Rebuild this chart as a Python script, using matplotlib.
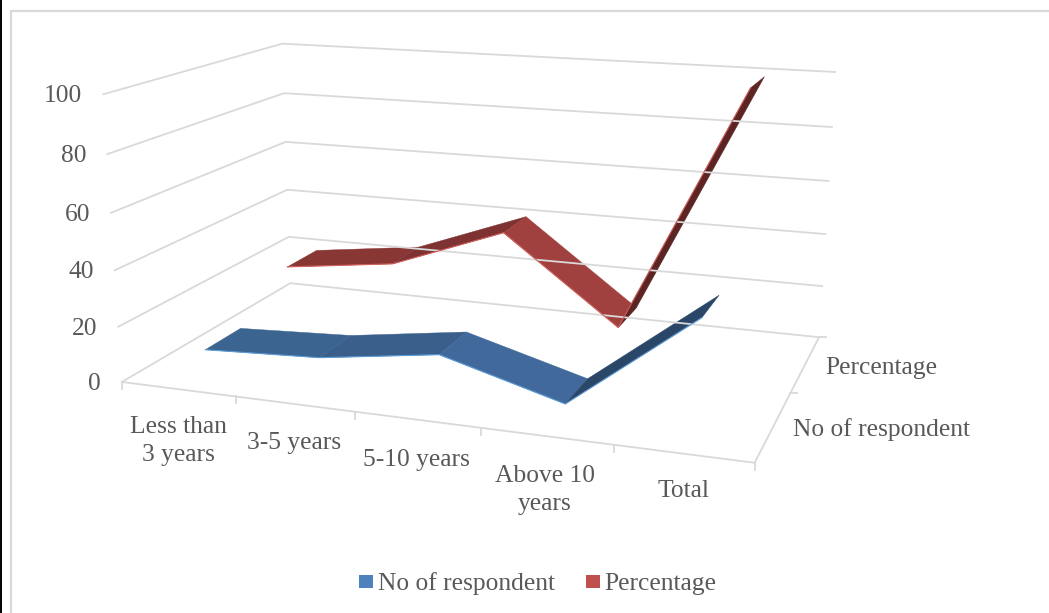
import matplotlib.pyplot as plt
import numpy as np
from matplotlib.patches import Rectangle

categories = ["Less than\n3 years", "3-5 years", "5-10 years", "Above 10\nyears", "Total"]
series_names = ["No of respondent", "Percentage"]
no_of_respondent = [8, 10, 16, 4, 38]
percentage = [21.05, 26.32, 42.11, 10.53, 100]
value_ticks = [0, 20, 40, 60, 80, 100]

GRID = "#d9d9d9"
TEXT = "#595959"
FONT_SIZE = 18.4

# ribbon colours per segment, the shading changes with the slope
BLUE_FACES = ["#3c6490", "#3a5f8b", "#41699b", "#2b4768"]
RED_FACES = ["#893735", "#7e3332", "#a0413f", "#5c2523"]

# plot box corners: (category pos, series pos, value, canvas x, canvas y)
box_corners = [
    (0, 0, 0, 122, 381),
    (0, 0, 100, 103, 95),
    (0, 1, 0, 290, 284),
    (0, 1, 100, 283, 43),
    (1, 1, 0, 819, 337),
    (1, 1, 100, 835, 72),
    (1, 0, 0, 755, 463),
]


# -----------------------------------------------------------------------------
def fit_projection() -> np.ndarray:
    rows = []
    rhs = []
    for u, v, z, px, py in box_corners:
        w = z / 100
        rows.append([u, v, w, 1, 0, 0, 0, 0, -px * u, -px * v, -px * w])
        rows.append([0, 0, 0, 0, u, v, w, 1, -py * u, -py * v, -py * w])
        rhs += [px, py]
    h = np.linalg.lstsq(np.array(rows, float), np.array(rhs, float), rcond=None)[0]
    return np.array([h[:4], h[4:8], [h[8], h[9], h[10], 1]])


P = fit_projection()


def project(u: float, v: float, z: float) -> tuple[float, float]:
    p = P @ np.array([u, v, z / 100, 1])
    return p[0] / p[2], p[1] / p[2]


# -----------------------------------------------------------------------------
def draw_ribbon(ax, values, v_front, v_back, faces, edge):
    n = len(values)
    for i in range(n - 1):
        u0 = (i + 0.5) / n
        u1 = (i + 1.5) / n
        quad = [
            project(u0, v_front, values[i]),
            project(u1, v_front, values[i + 1]),
            project(u1, v_back, values[i + 1]),
            project(u0, v_back, values[i]),
        ]
        ax.fill(*zip(*quad), facecolor=faces[i], edgecolor=faces[i], linewidth=0.3)
    front = [project((i + 0.5) / n, v_front, values[i]) for i in range(n)]
    ax.plot(*zip(*front), color=edge, linewidth=0.8, solid_joinstyle="round")


plt.rcParams["font.family"] = ["Liberation Serif", "DejaVu Serif"]

fig = plt.figure(figsize=(10.49, 6.13), dpi=100)
ax = fig.add_axes([0, 0, 1, 1])
ax.set_xlim(0, 1049)
ax.set_ylim(613, 0)
ax.axis("off")

# chart frame
ax.plot([0.5, 0.5], [0, 613], color="black", linewidth=1.4)
ax.plot([11, 11, 1049], [613, 10.5, 10.5], color=GRID, linewidth=1.6)

# gridlines run along the side wall and the back wall
for z in value_ticks:
    pts = [project(0, 0, z), project(0, 1, z), project(1, 1, z)]
    ax.plot(*zip(*pts), color=GRID, linewidth=1.3, solid_joinstyle="miter")
    x, y = project(0, 0, z)
    ax.text(x - 21, y + 2, str(z), ha="right", va="center", color=TEXT, fontsize=FONT_SIZE)

# floor edges and their ticks
floor = [project(0, 0, 0), project(1, 0, 0), project(1, 1, 0)]
ax.plot(*zip(*floor), color=GRID, linewidth=1.3)
for i in range(len(categories) + 1):
    x, y = project(i / len(categories), 0, 0)
    ax.plot([x, x], [y, y + 7], color=GRID, linewidth=1.3)
for v in (0.5, 1):
    x, y = project(1, v, 0)
    ax.plot([x, x + 7], [y, y], color=GRID, linewidth=1.3)

draw_ribbon(ax, percentage, 0.65, 0.85, RED_FACES, "#d2605c")
draw_ribbon(ax, no_of_respondent, 0.15, 0.35, BLUE_FACES, "#5b9bd5")

# axis labels
label_pos = [(178, 441), (294, 443), (416, 460), (545, 490), (683, 491)]
for name, (x, y) in zip(categories, label_pos):
    ax.text(x, y, name, ha="center", va="center", color=TEXT, fontsize=FONT_SIZE, linespacing=1.4)
ax.text(825, 368, series_names[1], ha="left", va="center", color=TEXT, fontsize=FONT_SIZE)
ax.text(793, 430, series_names[0], ha="left", va="center", color=TEXT, fontsize=FONT_SIZE)

# legend
ax.add_patch(Rectangle((359, 575), 13.5, 13, facecolor="#4f81bd", edgecolor="none"))
ax.text(378, 584, series_names[0], ha="left", va="center", color=TEXT, fontsize=FONT_SIZE)
ax.add_patch(Rectangle((586, 575), 13.5, 13, facecolor="#c0504d", edgecolor="none"))
ax.text(604, 584, series_names[1], ha="left", va="center", color=TEXT, fontsize=FONT_SIZE)

fig.savefig("out.png", dpi=100)
